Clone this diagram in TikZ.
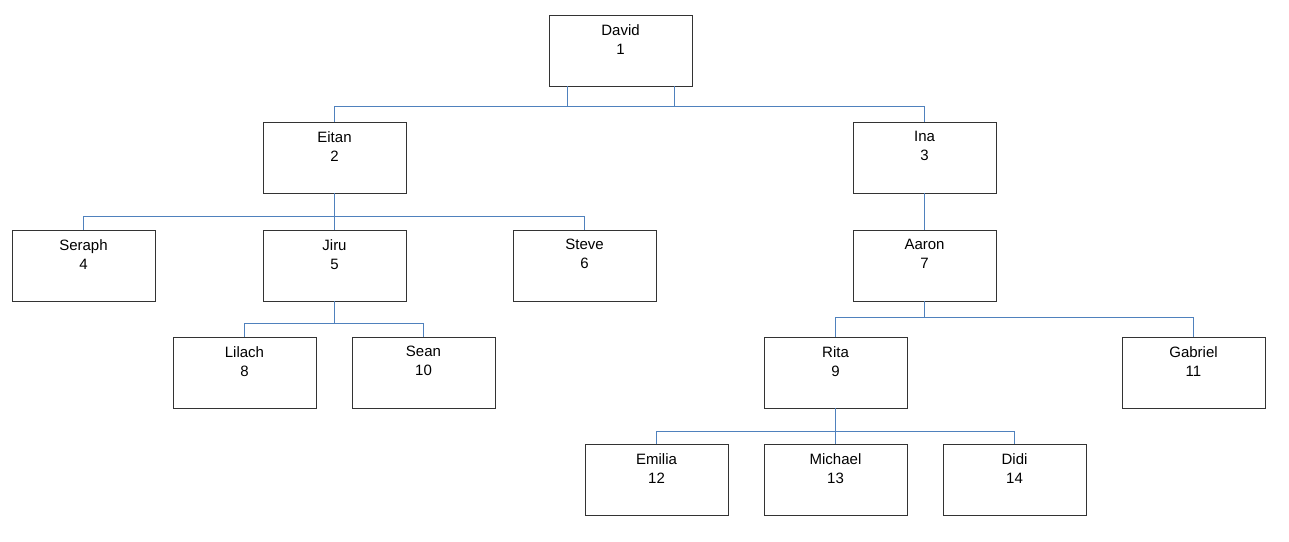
\documentclass[tikz,border=0pt]{standalone}
\usepackage{fontspec}
\setmainfont{Liberation Sans}
\begin{document}
\begin{tikzpicture}[x=1pt,y=-1pt,
  box/.style={draw=black!80,line width=0.9pt,minimum width=143pt,minimum height=71pt,inner sep=0pt},
  lbl/.style={anchor=north,align=center,inner sep=0pt,font=\fontsize{15}{19}\selectfont},
  wire/.style={draw={rgb,255:red,79;green,129;blue,189},line width=0.9pt}]
\useasboundingbox[fill=white] (0,0) rectangle (1289,541);
\newcommand{\person}[5]{%
  \node[box] (#1) at (#2,#3) {};
  \node[lbl] (#1t) at ([yshift=-9.6pt]#1.north) {#4\\#5};}
\person{david}{620.5}{50.5}{David}{1}
\person{eitan}{334.5}{157.5}{Eitan}{2}
\person{ina}{924.5}{157.5}{Ina}{3}
\person{seraph}{83.5}{265.5}{Seraph}{4}
\person{jiru}{334.5}{265.5}{Jiru}{5}
\person{steve}{584.5}{265.5}{Steve}{6}
\person{aaron}{924.5}{265.5}{Aaron}{7}
\person{lilach}{244.5}{372.5}{Lilach}{8}
\person{rita}{835.5}{372.5}{Rita}{9}
\person{sean}{423.5}{372.5}{Sean}{10}
\person{gabriel}{1193.5}{372.5}{Gabriel}{11}
\person{emilia}{656.5}{480}{Emilia}{12}
\person{michael}{835.5}{480}{Michael}{13}
\person{didi}{1014.5}{480}{Didi}{14}
% buses
\coordinate (b1) at (0,106);
\coordinate (b2) at (0,216);
\coordinate (b3) at (0,323);
\coordinate (b4) at (0,317);
\coordinate (b5) at (0,431);
\coordinate (dl) at ([xshift=-53.5pt]david.south);
\coordinate (dr) at ([xshift=53.5pt]david.south);
% David
\draw[wire] (dl) -- (dl |- b1);
\draw[wire] (dr) -- (dr |- b1);
\draw[wire] (eitan.north |- b1) -- (ina.north |- b1);
\draw[wire] (eitan.north |- b1) -- (eitan.north);
\draw[wire] (ina.north |- b1) -- (ina.north);
% Eitan
\draw[wire] (eitan.south) -- (jiru.north);
\draw[wire] (seraph.north |- b2) -- (steve.north |- b2);
\draw[wire] (seraph.north |- b2) -- (seraph.north);
\draw[wire] (steve.north |- b2) -- (steve.north);
% Ina
\draw[wire] (ina.south) -- (aaron.north);
% Jiru
\draw[wire] (jiru.south) -- (jiru.south |- b3);
\draw[wire] (lilach.north |- b3) -- (sean.north |- b3);
\draw[wire] (lilach.north |- b3) -- (lilach.north);
\draw[wire] (sean.north |- b3) -- (sean.north);
% Aaron
\draw[wire] (aaron.south) -- (aaron.south |- b4);
\draw[wire] (rita.north |- b4) -- (gabriel.north |- b4);
\draw[wire] (rita.north |- b4) -- (rita.north);
\draw[wire] (gabriel.north |- b4) -- (gabriel.north);
% Rita
\draw[wire] (rita.south) -- (michael.north);
\draw[wire] (emilia.north |- b5) -- (didi.north |- b5);
\draw[wire] (emilia.north |- b5) -- (emilia.north);
\draw[wire] (didi.north |- b5) -- (didi.north);
\end{tikzpicture}
\end{document}
